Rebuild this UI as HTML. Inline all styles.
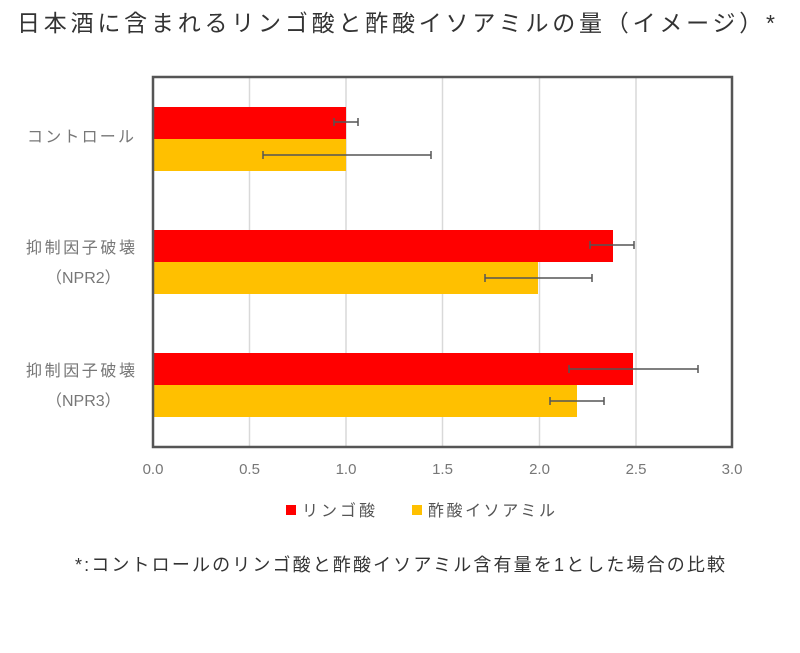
<!DOCTYPE html>
<html><head><meta charset="utf-8"><style>
body{margin:0;background:#fff;width:800px;height:648px;overflow:hidden;font-family:"Liberation Sans","Noto Sans CJK JP",sans-serif;}
</style></head><body>
<svg width="800" height="648" xmlns="http://www.w3.org/2000/svg" font-family="'Liberation Sans','Noto Sans CJK JP',sans-serif">
<text x="17" y="31" font-size="23" fill="#333" textLength="758" lengthAdjust="spacing">日本酒に含まれるリンゴ酸と酢酸イソアミルの量（イメージ）*</text>
<g stroke="#d9d9d9" stroke-width="1.5">
<line x1="249.5" y1="77" x2="249.5" y2="447"/><line x1="346" y1="77" x2="346" y2="447"/>
<line x1="442.5" y1="77" x2="442.5" y2="447"/><line x1="539.5" y1="77" x2="539.5" y2="447"/>
<line x1="636" y1="77" x2="636" y2="447"/></g>
<g fill="#ff0000"><rect x="153" y="107" width="193" height="32"/><rect x="153" y="230" width="460" height="32"/><rect x="153" y="353" width="480" height="32"/></g>
<g fill="#ffc000"><rect x="153" y="139" width="193" height="32"/><rect x="153" y="262" width="385" height="32"/><rect x="153" y="385" width="424" height="32"/></g>
<rect x="153" y="77" width="579" height="370" fill="none" stroke="#555" stroke-width="2.5"/>
<g stroke="#555" stroke-width="1.5">
<path d="M334 122H358M334 118V126M358 118V126"/>
<path d="M263 155H431M263 151V159M431 151V159"/>
<path d="M590 245H634M590 241V249M634 241V249"/>
<path d="M485 278H592M485 274V282M592 274V282"/>
<path d="M569 369H698M569 365V373M698 365V373"/>
<path d="M550 401H604M550 397V405M604 397V405"/>
</g>
<g font-size="16" fill="#777">
<text x="27" y="142" textLength="107" lengthAdjust="spacing">コントロール</text>
<text x="26" y="253" textLength="109" lengthAdjust="spacing">抑制因子破壊</text><text x="46" y="283">（NPR2）</text>
<text x="26" y="376" textLength="109" lengthAdjust="spacing">抑制因子破壊</text><text x="46" y="406">（NPR3）</text>
</g>
<g font-size="15" fill="#777" text-anchor="middle">
<text x="153" y="474">0.0</text><text x="249.5" y="474">0.5</text><text x="346" y="474">1.0</text>
<text x="442.5" y="474">1.5</text><text x="539.5" y="474">2.0</text><text x="636" y="474">2.5</text><text x="732" y="474">3.0</text>
</g>
<rect x="286" y="505" width="10" height="10" fill="#ff0000"/>
<text x="302" y="516" font-size="16" fill="#555" textLength="73" lengthAdjust="spacing">リンゴ酸</text>
<rect x="412" y="505" width="10" height="10" fill="#ffc000"/>
<text x="428" y="516" font-size="16" fill="#555" textLength="127" lengthAdjust="spacing">酢酸イソアミル</text>
<text x="75" y="571" font-size="18" fill="#333" textLength="650" lengthAdjust="spacing">*:コントロールのリンゴ酸と酢酸イソアミル含有量を1とした場合の比較</text>
</svg>
</body></html>
